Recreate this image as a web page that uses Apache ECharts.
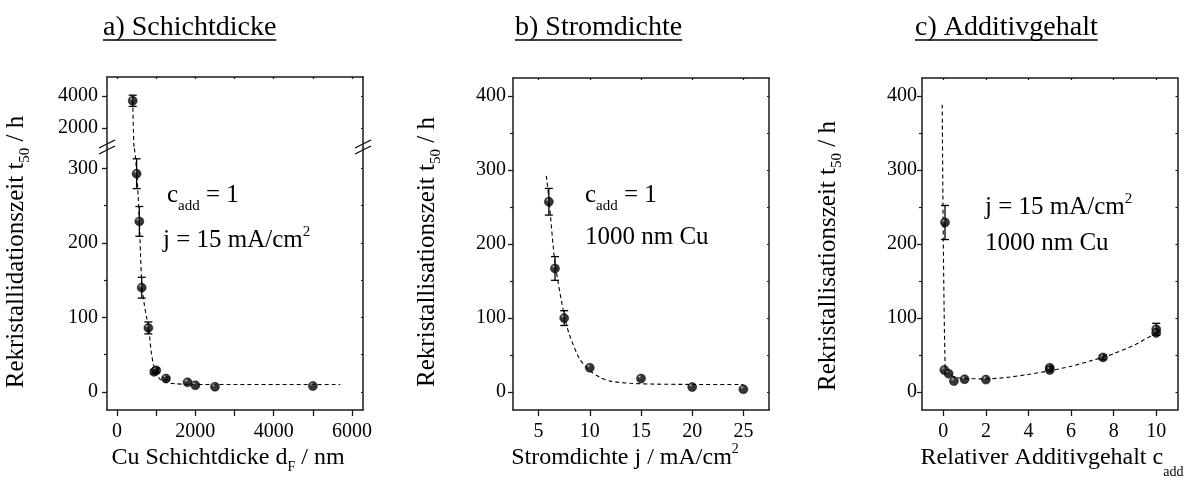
<!DOCTYPE html>
<html><head><meta charset="utf-8">
<script src="https://cdn.jsdelivr.net/npm/echarts@6/dist/echarts.min.js"></script>
<style>html,body{margin:0;padding:0;background:#fff}#c{width:1193px;height:488px}</style>
</head><body><div id="c"></div>
<script>
// ---------- DATA ----------
const titles = ['a) Schichtdicke', 'b) Stromdichte', 'c) Additivgehalt'];

// a) thickness
const thickX   = [400, 500, 570, 630, 800, 950, 1000, 1250, 1800, 2000, 2500, 5000];
const thickY   = [3700, 293, 229, 140, 86, 27, 29, 18, 13, 9, 7, 8];
const thickErr = [350, 20, 20, 14, 8, 3, 3, 2, 0, 0, 0, 0];
const fitAUpX = [400, 428, 434];
const fitAUpY = [3700, 1000, 750];
const fitALoX = [442, 470, 505, 540, 570, 600, 633, 700, 760, 812, 870, 950, 1015, 1100, 1250, 1500, 2000, 5700];
const fitALoY = [327, 315, 293, 262, 229, 185, 145, 116, 99, 85, 55, 32, 24, 17, 13, 11, 10, 10];

// b) current density
const currX   = [6, 6.6, 7.5, 10, 15, 20, 25];
const currY   = [257, 167, 100, 33, 18.5, 7, 4];
const currErr = [18, 16, 10, 0, 0, 0, 0];
const fitBX = [5.75, 6, 6.6, 7.5, 8, 9, 10, 11, 12, 14, 16, 20, 25];
const fitBY = [292, 262, 175, 104, 78, 45, 29, 20, 15, 12, 11, 10.5, 10.5];

// c) additive content
const addX   = [0.08, 0.05, 0.25, 0.5, 1, 2, 5, 5, 7.5, 10, 10];
const addY   = [229, 30, 25, 15, 17.5, 17, 33, 30, 47, 85, 80];
const addErr = [23, 0, 0, 0, 0, 0, 2, 0, 3, 8, 0];
const fitCX = [-0.05, 0.09, 0.3, 0.6, 1, 2, 3, 4, 5, 6, 7, 7.5, 8, 9, 10];
const fitCY = [388, 32, 24, 20, 18.5, 18, 20, 24, 29, 35, 43, 47, 52, 64, 80];

// tick values
const aXLabels = [0, 2000, 4000, 6000];
const aXTicks  = [0, 1000, 2000, 3000, 4000, 5000, 6000];
const aYUpLabels = [2000, 4000];
const aYLoLabels = [0, 100, 200, 300];
const aYLoMinor  = [50, 150, 250];
const bXLabels = [5, 10, 15, 20, 25];
const cXLabels = [0, 2, 4, 6, 8, 10];
const bcYLabels = [0, 100, 200, 300, 400];
const bcYMinor  = [50, 150, 250, 350];

// ---------- HELPERS ----------
const FONT = '"Liberation Serif", "Times New Roman", serif';
const cv = document.createElement('canvas').getContext('2d');
function tw(t, s) { cv.font = s + 'px ' + FONT; return cv.measureText(t).width; }
const AX = '#1a1a1a';
const plain = v => String(v);

function zip(a, b) { return a.map((v, i) => [v, b[i]]); }
function zip3(a, b, c) { return a.map((v, i) => [v, b[i], c[i]]); }

const ball = {
  type: 'radial', x: 0.35, y: 0.3, r: 0.8,
  colorStops: [{offset: 0, color: '#d8d8d8'}, {offset: 0.12, color: '#444'}, {offset: 0.3, color: '#050505'}, {offset: 1, color: '#000'}]
};

function errItem(params, api) {
  const x = api.value(0), y = api.value(1), e = api.value(2);
  if (!e) return null;
  const t = api.coord([x, y + e]), b = api.coord([x, y - e]);
  const w = 4, st = {stroke: '#000', lineWidth: 1.3};
  return {type: 'group', children: [
    {type: 'line', shape: {x1: t[0], y1: t[1], x2: b[0], y2: b[1]}, style: st},
    {type: 'line', shape: {x1: t[0] - w, y1: t[1], x2: t[0] + w, y2: t[1]}, style: st},
    {type: 'line', shape: {x1: b[0] - w, y1: b[1], x2: b[0] + w, y2: b[1]}, style: st}
  ]};
}

const xAxes = [], yAxes = [];
function xAxisSet(grid, min, max, labels, ticks, showBottom, showTop) {
  xAxes.push({type: 'value', gridIndex: grid, min, max, position: 'bottom',
    axisLine: {show: showBottom, onZero: false, lineStyle: {color: AX, width: 1.5}},
    axisTick: {show: showBottom, inside: false, length: 6, customValues: ticks, lineStyle: {color: AX, width: 1.3}},
    axisLabel: {show: showBottom, customValues: labels, formatter: plain, margin: 12, fontFamily: FONT, fontSize: 20, color: '#000'},
    splitLine: {show: false}});
  xAxes.push({type: 'value', gridIndex: grid, min, max, position: 'top',
    axisLine: {show: showTop, onZero: false, lineStyle: {color: AX, width: 1.5}},
    axisTick: {show: showTop, inside: true, length: 2, customValues: ticks, lineStyle: {color: AX, width: 1.3}},
    axisLabel: {show: false}, splitLine: {show: false}});
  return xAxes.length - 2;
}
function yAxisSet(grid, min, max, labels, minor, margin) {
  yAxes.push({type: 'value', gridIndex: grid, min, max, position: 'left',
    axisLine: {show: true, onZero: false, lineStyle: {color: AX, width: 1.5}},
    axisTick: {show: true, inside: false, length: 5, customValues: labels, lineStyle: {color: AX, width: 1.3}},
    axisLabel: {show: true, customValues: labels, formatter: plain, margin: margin, fontFamily: FONT, fontSize: 20, color: '#000'},
    splitLine: {show: false}});
  const idx = yAxes.length - 1;
  if (minor.length) {
    yAxes.push({type: 'value', gridIndex: grid, min, max, position: 'left', offset: 0,
      axisLine: {show: false, onZero: false},
      axisTick: {show: true, inside: false, length: 3, customValues: minor, lineStyle: {color: AX, width: 1.2}},
      axisLabel: {show: false}, splitLine: {show: false}});
  }
  yAxes.push({type: 'value', gridIndex: grid, min, max, position: 'right',
    axisLine: {show: true, onZero: false, lineStyle: {color: AX, width: 1.5}},
    axisTick: {show: true, inside: true, length: 2, customValues: labels.concat(minor), lineStyle: {color: AX, width: 1.2}},
    axisLabel: {show: false}, splitLine: {show: false}});
  return idx;
}

const grids = [
  {left: 107, top: 77, width: 256, height: 71},   // a upper
  {left: 107, top: 148, width: 256, height: 262}, // a lower
  {left: 513, top: 78, width: 256, height: 332},  // b
  {left: 922, top: 78, width: 255.5, height: 332} // c
];

const xa0 = xAxisSet(0, -256, 6280, aXLabels, aXTicks, false, true);
const xa1 = xAxisSet(1, -256, 6280, aXLabels, aXTicks, true, false);
const xb  = xAxisSet(2, 2.5, 27.5, bXLabels, bXLabels, true, true);
const xc  = xAxisSet(3, -1, 11, cXLabels, cXLabels, true, true);
const ya0 = yAxisSet(0, 750, 5187.5, aYUpLabels, [], 9);
const ya1 = yAxisSet(1, -24.2, 327.5, aYLoLabels, aYLoMinor, 9);
const yb  = yAxisSet(2, -24, 424, bcYLabels, bcYMinor, 7);
const yc  = yAxisSet(3, -24, 424, bcYLabels, bcYMinor, 5);

const series = [];
function addPanel(xi, yi, pts, fit) {
  series.push({type: 'line', xAxisIndex: xi, yAxisIndex: yi, data: fit, showSymbol: false, symbol: 'none',
    smooth: 0.25, lineStyle: {color: '#000', width: 1.1, type: [4, 3]}, z: 1, silent: true});
  series.push({type: 'custom', xAxisIndex: xi, yAxisIndex: yi, data: pts, renderItem: errItem, z: 2, silent: true});
  series.push({type: 'scatter', xAxisIndex: xi, yAxisIndex: yi, data: pts.map(p => [p[0], p[1]]),
    symbolSize: 9, itemStyle: {color: ball, borderColor: '#000', borderWidth: 0.6}, z: 3, silent: true});
}
const aPts = zip3(thickX, thickY, thickErr);
addPanel(xa0, ya0, aPts.filter(p => p[1] > 1000), zip(fitAUpX, fitAUpY));
addPanel(xa1, ya1, aPts.filter(p => p[1] <= 1000), zip(fitALoX, fitALoY));
addPanel(xb, yb, zip3(currX, currY, currErr), zip(fitBX, fitBY));
addPanel(xc, yc, zip3(addX, addY, addErr), zip(fitCX, fitCY));

// ---------- TEXT GRAPHICS ----------
const graphics = [];
function textLine(parts, align) {
  let total = 0;
  parts.forEach(p => total += tw(p[0], p[1]));
  let cx = align === 'center' ? -total / 2 : 0;
  const els = [];
  parts.forEach(([t, s, dy]) => {
    els.push({type: 'text', x: cx, y: (dy || 0) - 0.305 * s,
      style: {text: t, font: s + 'px ' + FONT, fill: '#000', textAlign: 'left', textVerticalAlign: 'middle'}});
    cx += tw(t, s);
  });
  return {els, total};
}
function addText(x, y, parts, align, rot) {
  const r = textLine(parts, align);
  graphics.push({type: 'group', x, y, rotation: rot || 0, children: r.els, silent: true});
  return r.total;
}

// titles with underline
const titleX = [103, 515, 915];
titles.forEach((t, i) => {
  const w = addText(titleX[i], 36, [[t, 28, 0]], 'left');
  graphics.push({type: 'line', shape: {x1: titleX[i], y1: 40, x2: titleX[i] + w, y2: 40},
    style: {stroke: '#000', lineWidth: 1.6}, silent: true});
});

// y-axis names
const yName = (word) => [[word + ' t', 25, 0], ['50', 15, 6], [' / h', 25, 0]];
addText(24, 252, yName('Rekristallidationszeit'), 'center', Math.PI / 2);
addText(435, 252, yName('Rekristallisationszeit'), 'center', Math.PI / 2);
addText(836, 256, yName('Rekristallisationszeit'), 'center', Math.PI / 2);

// x-axis names
addText(228, 465, [['Cu Schichtdicke d', 24, 0], ['F', 14, 7], [' / nm', 24, 0]], 'center');
addText(625, 465, [['Stromdichte j / mA/cm', 24, 0], ['2', 14, -11]], 'center');
addText(1052, 465, [['Relativer Additivgehalt c', 24, 0], ['add', 14, 12]], 'center');

// annotations
const cadd = [['c', 25, 0], ['add', 15, 8], [' = 1', 25, 0]];
const jtxt = [['j = 15 mA/cm', 25, 0], ['2', 15, -11]];
const cu = [['1000 nm Cu', 25, 0]];
addText(167, 203, cadd, 'left');
addText(163, 248, jtxt, 'left');
addText(585, 203, cadd, 'left');
addText(585, 245, cu, 'left');
addText(985, 215, jtxt, 'left');
addText(985, 251, cu, 'left');

// axis break marks
[107, 363].forEach(bx => {
  graphics.push({type: 'group', x: bx, y: 147, silent: true, children: [
    {type: 'polygon', shape: {points: [[-8, 1], [8, -7], [8, -1], [-8, 7]]}, style: {fill: '#fff'}},
    {type: 'line', shape: {x1: -8, y1: 1, x2: 8, y2: -7}, style: {stroke: '#000', lineWidth: 1.2}},
    {type: 'line', shape: {x1: -8, y1: 7, x2: 8, y2: -1}, style: {stroke: '#000', lineWidth: 1.2}}
  ]});
});

const chart = echarts.init(document.getElementById('c'), null, {renderer: 'canvas'});
chart.setOption({
  animation: false,
  backgroundColor: '#fff',
  grid: grids,
  xAxis: xAxes,
  yAxis: yAxes,
  series: series,
  graphic: {elements: graphics}
});
</script></body></html>
